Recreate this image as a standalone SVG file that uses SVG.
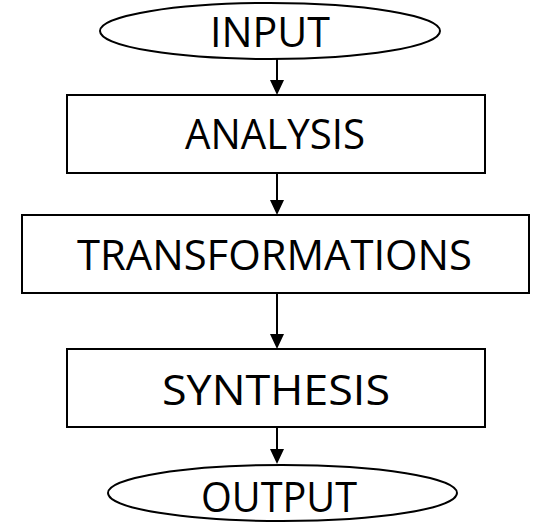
<svg xmlns="http://www.w3.org/2000/svg" width="539" height="523" viewBox="0 0 539 523">
<style>
.shape{fill:#fff;stroke:#000;stroke-width:2}
.lbl{font-family:"Open Sans","Liberation Sans",sans-serif;font-size:42px;fill:#000}
.conn{stroke:#000;stroke-width:2;fill:none}
</style>
<defs>
<marker id="ah" viewBox="0 0 15 14" refX="0" refY="7" markerWidth="15" markerHeight="14" markerUnits="userSpaceOnUse" orient="auto">
<path d="M0,0 L15,7 L0,14 z" fill="#000"/>
</marker>
</defs>
<rect width="539" height="523" fill="#fff"/>
<g id="connectors">
<line class="conn" x1="277" y1="59" x2="277" y2="80" marker-end="url(#ah)"/>
<line class="conn" x1="277" y1="173" x2="277" y2="200" marker-end="url(#ah)"/>
<line class="conn" x1="277" y1="293" x2="277" y2="334" marker-end="url(#ah)"/>
<line class="conn" x1="277" y1="427" x2="277" y2="449" marker-end="url(#ah)"/>
</g>
<g id="input">
<ellipse class="shape" cx="270" cy="31" rx="170" ry="28"/>
<text class="lbl" x="210" y="47" textLength="120" lengthAdjust="spacingAndGlyphs">INPUT</text>
</g>
<g id="analysis">
<rect class="shape" x="67" y="95" width="418" height="78"/>
<text class="lbl" x="185" y="149" textLength="180" lengthAdjust="spacingAndGlyphs">ANALYSIS</text>
</g>
<g id="transformations">
<rect class="shape" x="22" y="215" width="507" height="78"/>
<text class="lbl" x="77" y="270" textLength="395" lengthAdjust="spacingAndGlyphs">TRANSFORMATIONS</text>
</g>
<g id="synthesis">
<rect class="shape" x="67" y="349" width="418" height="78"/>
<text class="lbl" x="162" y="405" textLength="228" lengthAdjust="spacingAndGlyphs">SYNTHESIS</text>
</g>
<g id="output">
<ellipse class="shape" cx="282.5" cy="493" rx="174.5" ry="28"/>
<text class="lbl" x="201" y="512" textLength="156" lengthAdjust="spacingAndGlyphs">OUTPUT</text>
</g>
</svg>
